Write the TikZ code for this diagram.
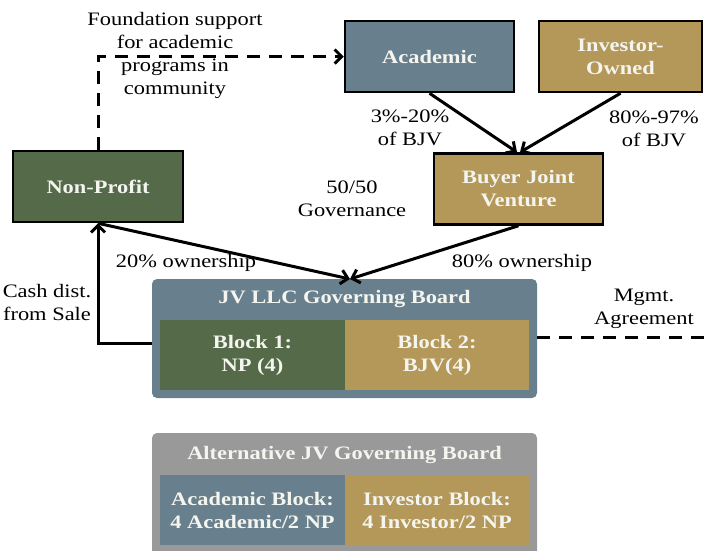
\documentclass[tikz,border=0pt]{standalone}
\usepackage{fontspec}
\setmainfont[FakeStretch=1.18]{Liberation Serif}
\usetikzlibrary{arrows.meta}

\definecolor{slate}{RGB}{104,128,141}
\definecolor{tan}{RGB}{179,152,90}
\definecolor{npgreen}{RGB}{85,106,73}
\definecolor{altgray}{RGB}{153,153,153}
\definecolor{boxtext}{RGB}{245,245,240}

\begin{document}
\begin{tikzpicture}[x=1pt,y=-1pt,
  entity/.style={draw=black, line width=2.5pt, text=boxtext, align=center,
    font=\bfseries\fontsize{19}{23}\selectfont, minimum width=169pt,
    minimum height=71pt, inner sep=0pt},
  block/.style={text=boxtext, align=center, font=\bfseries\fontsize{19}{23}\selectfont,
    minimum width=185pt, minimum height=70pt, inner sep=0pt},
  board/.style={rounded corners=5pt, minimum width=385pt, inner sep=0pt},
  boardtitle/.style={text=boxtext, font=\bfseries\fontsize{19}{23}\selectfont, inner sep=0pt},
  lbl/.style={font=\fontsize{19}{23}\selectfont, align=center, inner sep=0pt},
  link/.style={line width=3pt, -{Straight Barb[length=7pt,width=14pt,line width=3pt]}},
  fundline/.style={link, dash pattern=on 13pt off 9pt},
  mgmtline/.style={line width=3pt, dash pattern=on 13pt off 9pt}]
\useasboundingbox (0,0) rectangle (704,550);

% owners
\node[entity, fill=slate] (academic) at (429.5,56.5) {Academic};
\node[entity, fill=tan, minimum width=163pt] (investor) at (620.5,56.5) {Investor-\\Owned};
\node[entity, fill=tan] (bjv) at (518.5,189) {Buyer Joint\\Venture};
\node[entity, fill=npgreen, minimum width=170pt] (np) at (98,186.5) {Non-Profit};

% JV board
\node[board, fill=slate, minimum height=119pt] (jvboard) at (344.5,338.5) {};
\node[boardtitle] (jvtitle) at (344.5,299) {JV LLC Governing Board};
\node[block, fill=npgreen] (block1) at (252.5,355) {Block 1:\\NP (4)};
\node[block, fill=tan, minimum width=184pt] (block2) at (437,355) {Block 2:\\BJV(4)};

% alternative board
\node[board, fill=altgray, minimum height=125pt] (altboard) at (344.5,495.5) {};
\node[boardtitle] (alttitle) at (344.5,455) {Alternative JV Governing Board};
\node[block, fill=slate] (acadblock) at (252.5,510) {Academic Block:\\4 Academic/2 NP};
\node[block, fill=tan, minimum width=184pt] (invblock) at (437,510) {Investor Block:\\4 Investor/2 NP};

% connectors
\coordinate (jvin) at (350,279);
\coordinate (mgmtend) at (704,337);
\draw[link] (academic.south) -- ([xshift=-1.5pt]bjv.north);
\draw[link] (investor.south) -- ([xshift=1.5pt]bjv.north);
\draw[link] (np.south) -- (jvin);
\draw[link] (bjv.south) -- (jvin);
\draw[link] ([yshift=-4.5pt]jvboard.west) -| (np.south);
\draw[fundline] (np.north) |- (academic.west);
\draw[mgmtline] (jvboard.east |- mgmtend) -- (mgmtend);

% labels
\node[lbl] (fundlbl) at (175,55) {Foundation support\\for academic\\programs in\\community};
\node[lbl] (acadpct) at (410,128) {3\%-20\%\\of BJV};
\node[lbl] (invpct) at (654,129) {80\%-97\%\\of BJV};
\node[lbl] (govlbl) at (352,199) {50/50\\Governance};
\node[lbl] (nplbl) at (186,263) {20\% ownership};
\node[lbl] (bjvlbl) at (522,263) {80\% ownership};
\node[lbl] (cashlbl) at (47,302) {Cash dist.\\from Sale};
\node[lbl] (mgmtlbl) at (644,309) {Mgmt.\\Agreement};
\end{tikzpicture}
\end{document}
